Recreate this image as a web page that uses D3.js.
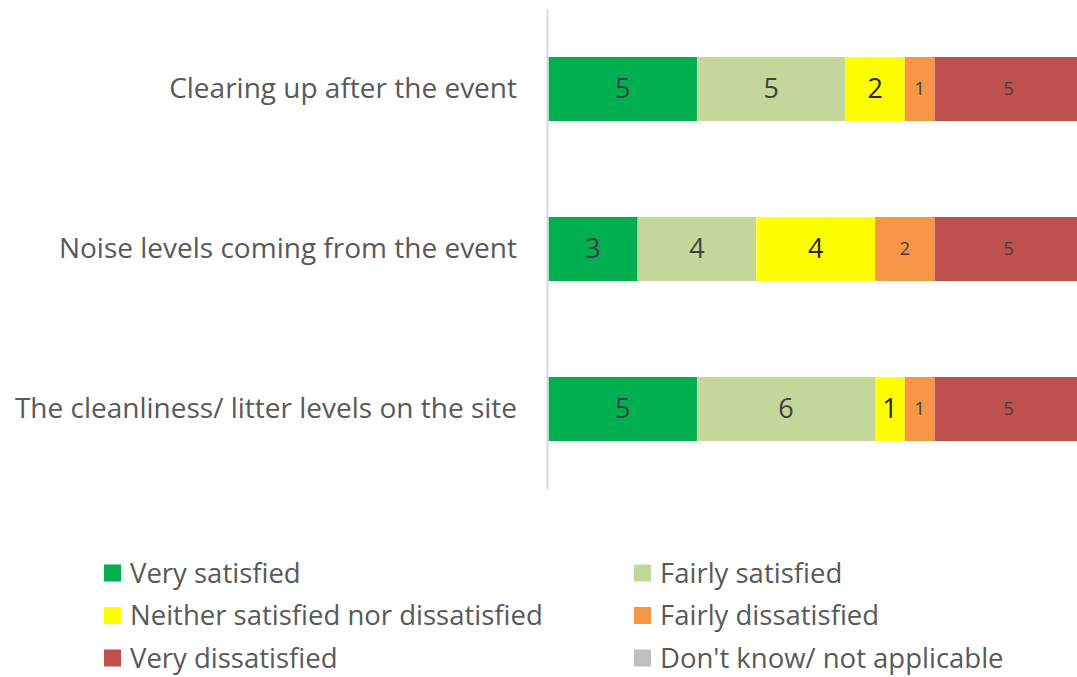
<!DOCTYPE html>
<html>
<head>
<meta charset="utf-8">
<script src="https://cdn.jsdelivr.net/npm/d3@7"></script>
<style>
  body { margin: 0; background: #fff; overflow: hidden; }
  text { font-family: "Open Sans", "Liberation Sans", sans-serif; }
</style>
</head>
<body>
<svg id="chart"></svg>
<script>
// categories, top to bottom
const categories = ["Clearing up after the event", "Noise levels coming from the event", "The cleanliness/ litter levels on the site"];
const seriesNames = ["Very satisfied", "Fairly satisfied", "Neither satisfied nor dissatisfied", "Fairly dissatisfied", "Very dissatisfied", "Don't know/ not applicable"];
const verySatisfied = [5, 3, 5];
const fairlySatisfied = [5, 4, 6];
const neither = [2, 4, 1];
const fairlyDissatisfied = [1, 2, 1];
const veryDissatisfied = [5, 5, 5];
const dontKnow = [0, 0, 0];

const colors = ["#00b050", "#c4d79b", "#ffff00", "#f79646", "#c0504d", "#bfbfbf"];

const W = 1077, H = 677;
const svg = d3.select("#chart").attr("width", W).attr("height", H);

// build rows for the stack
const table = categories.map((c, i) => ({
    cat: c,
    "Very satisfied": verySatisfied[i],
    "Fairly satisfied": fairlySatisfied[i],
    "Neither satisfied nor dissatisfied": neither[i],
    "Fairly dissatisfied": fairlyDissatisfied[i],
    "Very dissatisfied": veryDissatisfied[i],
    "Don't know/ not applicable": dontKnow[i]
}));

const stacked = d3.stack().keys(seriesNames)(table);
const maxTotal = d3.max(table, d => d3.sum(seriesNames, k => d[k]));

// bars run past the right edge a little, as in the original
let x = d3.scaleLinear()
    .domain([0, maxTotal])
    .range([548.5, 1083]);

let y = d3.scaleBand()
    .domain(categories)
    .range([9, 489])
    .paddingInner(0.6)
    .paddingOuter(0.3);

// bars
let groups = svg.selectAll("g.series")
    .data(stacked)
    .enter()
        .append("g")
        .attr("class", "series")
        .style("fill", (d, i) => colors[i]);

groups.selectAll("rect")
    .data(d => d.map(s => ({s: s, key: d.key})))
    .enter()
        .append("rect")
            .attr("x", d => x(d.s[0]))
            .attr("y", d => y(d.s.data.cat))
            .attr("width", d => x(d.s[1]) - x(d.s[0]))
            .attr("height", y.bandwidth());

// data labels: the last two series use a smaller font
groups.each(function(d, i) {
    let small = i >= 3;
    d3.select(this).selectAll("text")
        .data(d.filter(s => s[1] - s[0] > 0))
        .enter()
            .append("text")
            .attr("x", s => (x(s[0]) + x(s[1])) / 2)
            .attr("y", s => y(s.data.cat) + y.bandwidth() / 2)
            .attr("dy", "0.35em")
            .attr("text-anchor", "middle")
            .style("font-size", small ? "18px" : "27px")
            .style("fill", i == 2 ? "#262626" : "#404040")
            .text(s => s[1] - s[0]);
});

// category axis
let yAxis = d3.axisLeft(y).tickSize(0).tickPadding(30);
let gy = svg.append("g")
    .attr("transform", `translate(${547}, 0)`)
    .call(yAxis);
gy.select(".domain").attr("stroke", "#d9d9d9").attr("stroke-width", 2);
gy.selectAll(".tick text")
    .style("font-size", "28px")
    .style("fill", "#595959")
    .style("font-family", "'Open Sans', sans-serif");

// legend, two columns
let legend = svg.selectAll("g.legend")
    .data(seriesNames)
    .enter()
        .append("g")
        .attr("class", "legend")
        .attr("transform", (d, i) => `translate(${i % 2 ? 634 : 104}, ${573 + Math.floor(i / 2) * 42.5})`);

legend.append("rect")
    .attr("x", 0).attr("y", -8.5)
    .attr("width", 17).attr("height", 17)
    .style("fill", (d, i) => colors[i]);

legend.append("text")
    .attr("x", 26)
    .attr("dy", "0.35em")
    .style("font-size", "27.5px")
    .style("fill", "#595959")
    .text(d => d);
</script>
</body>
</html>
